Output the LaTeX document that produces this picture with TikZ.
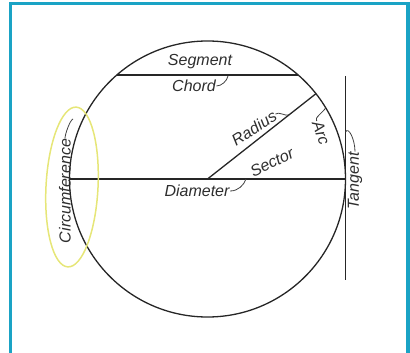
\documentclass[tikz,border=0pt]{standalone}
\usepackage{fontspec}
\setsansfont{Liberation Sans}
\usetikzlibrary{positioning, arrows.meta}
\definecolor{frameteal}{RGB}{26,163,197}
\definecolor{hiyellow}{RGB}{230,230,120}
\tikzset{
  lbl/.style={font=\sffamily\itshape\fontsize{16}{18}\selectfont, text=black!82, inner sep=0.5pt},
  geo/.style={draw=black!85, line width=1.3pt},
  hook/.style={draw=black!75, line width=0.8pt},
  >=Stealth,
}

\begin{document}
\begin{tikzpicture}[x=1pt, y=-1pt]
    \useasboundingbox (0,0) rectangle (410,353);
    % frame, open at the bottom
    \draw[frameteal, line width=3.5pt] (10.5,353) -- (10.5,3.5) -- (408,3.5) -- (408,353);

    % the circle and its lines
    \coordinate (o) at (207.5,179);
    \draw[geo] (o) circle (138);
    \coordinate (dl) at (69.5,179);
    \coordinate (dr) at (345.5,179);
    \coordinate (cl) at (116.8,75);
    \coordinate (cr) at (298.2,75);
    \coordinate (rt) at (316.2,93.5);
    \coordinate (tt) at (345.5,76);
    \coordinate (tb) at (345.5,280);
    \draw[geo] (dl) -- (dr);
    \draw[geo] (cl) -- (cr);
    \draw[geo] (o) -- (rt);
    \draw[geo] (tt) -- (tb);

    % highlight
    \draw[hiyellow, line width=1.5pt, rotate around={-3:(72,187)}] (72,187) ellipse (26 and 80);

    % labels
    \node[lbl] (seg) at (200,62) {Segment};
    \node[lbl] (chord) at (194,86) {Chord};
    \node[lbl, rotate=33] (rad) at (254,128) {Radius};
    \node[lbl, rotate=26] (sec) at (272,162) {Sector};
    \node[lbl] (diam) at (197,191) {Diameter};
    \node[lbl, rotate=-70] (arc) at (321,133) {Arc};
    \node[lbl, rotate=90] (tan) at (355,181) {Tangent};
    \node[lbl, rotate=90] (circ) at (65,191) {Circumference};

    % leader hooks
    \coordinate (chordpt) at (228,76);
    \coordinate (radpt) at (289,114.8);
    \coordinate (diampt) at (246,179);
    \coordinate (arcpt) at (325.5,108);
    \coordinate (tanpt) at (345.5,132);
    \coordinate (circpt) at (73,119);
    \draw[hook] (chord.east) .. controls +(5,0) and +(-1,5) .. (chordpt);
    \draw[hook] (rad.east) .. controls +(3,-3) and +(-3,2) .. (radpt);
    \draw[hook] (diam.east) .. controls +(8,0) and +(-2,6) .. (diampt);
    \draw[hook] (arc.west) .. controls +(-3,-3) and +(-2,4) .. (arcpt);
    \draw[hook] (tan.east) .. controls +(0,-12) and +(3,-6) .. (tanpt);
    \draw[hook] (circ.east) .. controls +(0,-4) and +(-3,1) .. (circpt);
\end{tikzpicture}
\end{document}
